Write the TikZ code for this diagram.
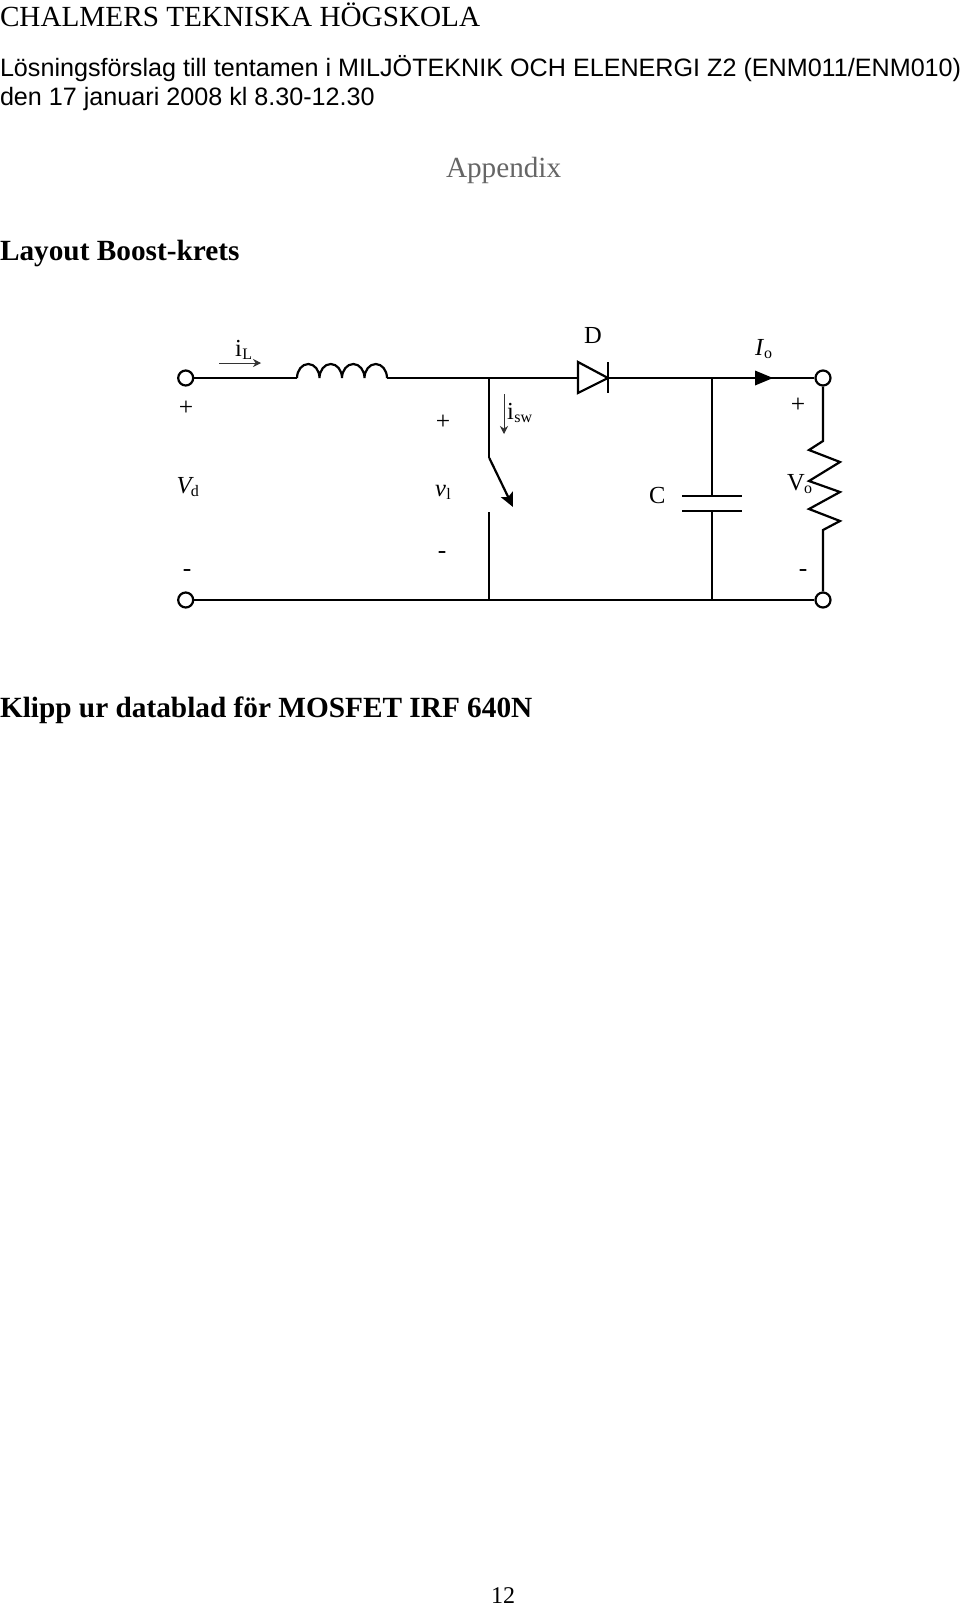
\documentclass[tikz,border=0pt]{standalone}
\usepackage{fontspec}
\setmainfont{Liberation Serif}
\newfontfamily\arialf{Liberation Sans}
\usetikzlibrary{arrows.meta}
\newcommand{\fsz}[1]{\fontsize{#1}{#1}\selectfont}
\newcommand{\subt}[1]{{\fsz{16}\raisebox{-3.5pt}{#1}}}
\definecolor{appgray}{HTML}{666666}
\definecolor{thingray}{HTML}{333333}
\tikzset{
  wire/.style={line width=2.2pt,line join=miter},
  thin wire/.style={line width=0.6pt,draw=thingray},
  terminal/.style={circle,draw,line width=2.2pt,fill=white,minimum size=15pt,inner sep=0pt},
  txt/.style={anchor=base west,inner sep=0pt,outer sep=0pt},
  lab/.style={txt,font=\fsz{24.5}},
  sign/.style={anchor=center,inner sep=0pt,font=\fsz{25.5}},
  head/.style={txt,font=\fsz{29.2}},
  sans/.style={txt,font=\arialf\fsz{25.15}},
  bhead/.style={txt,font=\bfseries\fsz{29.3}}
}
\begin{document}
\begin{tikzpicture}[x=1pt,y=-1pt]
\useasboundingbox (0,0) rectangle (960,1607);
\fill[white] (0,0) rectangle (960,1607);
% texts
\node[head] (t1) at (0,26) {CHALMERS TEKNISKA HÖGSKOLA};
\node[sans] (t2) at (0,76) {Lösningsförslag till tentamen i MILJÖTEKNIK OCH ELENERGI Z2 (ENM011/ENM010)};
\node[sans] (t3) at (0,105) {den 17 januari 2008 kl 8.30-12.30};
\node[head,text=appgray] (t4) at (446,177) {Appendix};
\node[bhead] (t5) at (0,260) {Layout Boost-krets};
\node[bhead] (t6) at (0,717) {Klipp ur datablad för MOSFET IRF 640N};
\node[txt,font=\fsz{24}] (t7) at (491,1603) {12};
% terminals
\node[terminal] (tl) at (185.7,378) {};
\node[terminal] (bl) at (185.7,600) {};
\node[terminal] (tr) at (823,378) {};
\node[terminal] (br) at (823,600) {};
% coordinates
\coordinate (l1) at (297,378);
\coordinate (l2) at (387,378);
\coordinate (jt) at (489.3,378);
\coordinate (jb) at (489.3,600);
\coordinate (sw1) at (489.3,458);
\coordinate (sw2) at (513,507);
\coordinate (sw3) at (489.3,512);
\coordinate (da) at (578,378);
\coordinate (dk) at (608,378);
\coordinate (ct) at (712,378);
\coordinate (cb) at (712,600);
\coordinate (c1) at (712,496);
\coordinate (c2) at (712,511);
\coordinate (r1) at (823,441);
\coordinate (r2) at (823,530);
% wires
\draw[wire] (tl.east) -- (l1);
\draw[wire] (l1) arc[start angle=180,end angle=360,x radius=11.25,y radius=14]
   arc[start angle=180,end angle=360,x radius=11.25,y radius=14]
   arc[start angle=180,end angle=360,x radius=11.25,y radius=14]
   arc[start angle=180,end angle=360,x radius=11.25,y radius=14];
\draw[wire] (l2) -- (jt) -- (da);
\draw[wire] (jt) -- (sw1);
\draw[wire,-{Stealth[length=14pt,width=13pt,inset=3pt]}] (sw1) -- (sw2);
\draw[wire] (sw3) -- (jb);
\draw[wire] (bl.east) -- (jb) -- (cb) -- (br.west);
% diode
\draw[wire] (da) -- (578,362) -- (dk) -- (578,393) -- cycle;
\draw[wire] (608,362) -- (608,393);
\draw[wire] (dk) -- (ct) -- (tr.west);
% capacitor
\draw[wire] (ct) -- (c1);
\draw[wire] (c2) -- (cb);
\draw[wire] (682,496) -- (742,496);
\draw[wire] (682,511) -- (742,511);
% Io arrow
\fill (755,370.5) -- (773,378) -- (755,385.5) -- cycle;
% resistor
\draw[wire] (tr.south) -- (r1) -- (809,450) -- (840,462) -- (809,481) -- (840,492) -- (809,509) -- (840,521) -- (r2) -- (br.north);
% thin arrows
\coordinate (ia1) at (219,363);
\coordinate (ia2) at (261,363);
\coordinate (sa1) at (504,394);
\coordinate (sa2) at (504,434);
\draw[thin wire,-{Stealth[length=8pt,width=8pt]}] (ia1) -- (ia2);
\draw[thin wire,-{Stealth[length=8pt,width=8pt]}] (sa1) -- (sa2);
% labels
\node[lab] (iL) at (235,356) {i\kern0.5pt\subt{L}};
\node[lab] (D) at (584,343) {D};
\node[lab] (Io) at (755,355) {\textit{I}\subt{o}};
\node[lab] (isw) at (507,419) {i\kern0.5pt\subt{sw}};
\node[lab] (Vd) at (176.5,493) {\textit{V}\kern-3pt\subt{d}};
\node[lab] (vl) at (435,496) {\textit{v}\kern0.5pt\subt{l}};
\node[lab] (C) at (649,503) {C};
\node[lab] (Vo) at (787,490) {V\kern-0.5pt\subt{o}};
\node[sign] (p1) at (186,408) {+};
\node[sign] (p2) at (443,422) {+};
\node[sign] (p3) at (798,405) {+};
\node[sign] (m1) at (187,573) {-};
\node[sign] (m2) at (442,555) {-};
\node[sign] (m3) at (803,573) {-};
\end{tikzpicture}
\end{document}
